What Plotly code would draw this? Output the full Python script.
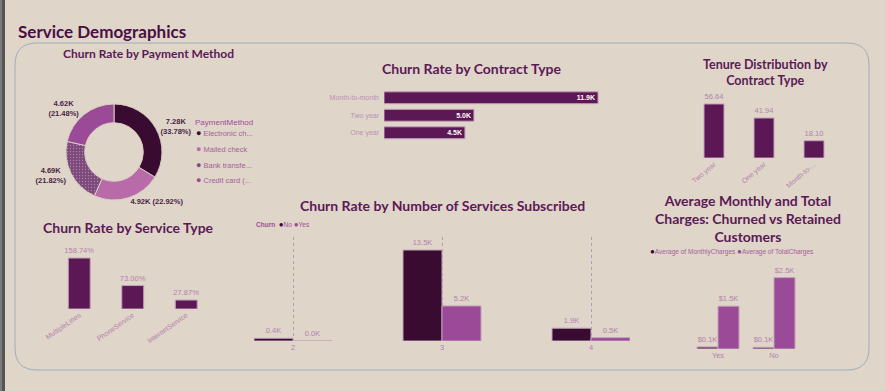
import plotly.graph_objects as go

W, H = 885, 391


def px(x):
    return x / W


def py(y):
    return 1 - y / H


# ---------------- data ----------------
pay_methods = ["Electronic check", "Mailed check", "Bank transfer (automatic)", "Credit card (automatic)"]
pay_legend_names = ["Electronic ch...", "Mailed check", "Bank transfe...", "Credit card (..."]
pay_counts_k = [7.28, 4.92, 4.69, 4.62]
pay_pct = [33.78, 22.92, 21.82, 21.48]

contract_types = ["Month-to-month", "Two year", "One year"]
contract_churn_k = [11.9, 5.0, 4.5]

tenure_contracts = ["Two year", "One year", "Month-to-month"]
tenure_ticktext = ["Two year", "One year", "Month-to-..."]
tenure_values = [56.64, 41.94, 18.10]

service_types = ["MultipleLines", "PhoneService", "InternetService"]
service_rates = [158.74, 73.00, 27.87]

num_services = [2, 3, 4]
churn_series = ["No", "Yes"]
churn_no_k = [0.4, 13.5, 1.9]
churn_yes_k = [0.0, 5.2, 0.5]

charge_groups = ["Yes", "No"]
charge_series = ["Average of MonthlyCharges", "Average of TotalCharges"]
avg_monthly_k = [0.074, 0.061]
avg_total_k = [1.53, 2.55]

# ---------------- style ----------------
BG = "#DFD5C8"
DARK = "#3A0B30"
BAR = "#5C1854"
MID = "#9B4A97"
PINK = "#B86BA8"
DOTTED = "#7E4A7C"
TITLE = "#5B1A57"
LABEL = "#B482AE"
LEG = "#A8609F"
EDGE = "#C3A2BC"
FONT = "Liberation Sans"
TFONT = "Lato"
pay_colors = [DARK, PINK, DOTTED, MID]

fig = go.Figure()

# ---- Donut: churn by payment method ----
sep = ["<br>", " ", "<br>", "<br>"]
pie_text = [f"{c:.2f}K{s}({p:.2f}%)" for c, p, s in zip(pay_counts_k, pay_pct, sep)]
fig.add_trace(go.Pie(
    labels=pay_methods, values=pay_pct, text=pie_text, textinfo="text",
    textposition="outside", hole=0.61, sort=False, direction="clockwise",
    rotation=0, showlegend=False, automargin=False,
    marker=dict(colors=pay_colors, line=dict(color="#D8CCC4", width=1),
                pattern=dict(shape=["", "", ".", ""], fgcolor="#A884A6",
                             bgcolor=pay_colors, size=3, solidity=0.15)),
    textfont=dict(size=7.5, color="#4A2446", family=FONT, weight="bold"),
    domain=dict(x=[px(66), px(162)], y=[py(200), py(104)]),
    hoverinfo="label+percent",
))

# ---- Horizontal bars: churn by contract type ----
fig.add_trace(go.Bar(
    y=contract_types, x=contract_churn_k, orientation="h", width=0.68,
    marker=dict(color=BAR, line=dict(color=EDGE, width=1)),
    texttemplate="%{x:.1f}K", textposition="inside", insidetextanchor="end",
    textfont=dict(color="white", size=7, family=FONT, weight="bold"),
    constraintext="none", showlegend=False, xaxis="x", yaxis="y",
))

# ---- Tenure by contract type ----
fig.add_trace(go.Bar(
    x=tenure_contracts, y=tenure_values, width=0.4,
    marker=dict(color=BAR, line=dict(color=EDGE, width=1)),
    texttemplate="%{y:.2f}", textposition="outside", cliponaxis=False,
    textfont=dict(color=LABEL, size=7.5, family=FONT),
    constraintext="none", showlegend=False, xaxis="x2", yaxis="y2",
))

# ---- Service type ----
fig.add_trace(go.Bar(
    x=service_types, y=service_rates, width=0.41,
    marker=dict(color=BAR, line=dict(color=EDGE, width=1)),
    texttemplate="%{y:.2f}%", textposition="outside", cliponaxis=False,
    textfont=dict(color=LABEL, size=7.5, family=FONT),
    constraintext="none", showlegend=False, xaxis="x3", yaxis="y3",
))

# ---- Number of services subscribed ----
bw = 39 / 149
for vals, col, off, name in zip([churn_no_k, churn_yes_k], [DARK, MID], [-bw, 0], churn_series):
    fig.add_trace(go.Bar(
        x=num_services, y=vals, width=bw, offset=off, name=name,
        marker=dict(color=col, line=dict(color=EDGE, width=1)),
        texttemplate="%{y:.1f}K", textposition="outside", cliponaxis=False,
        textfont=dict(color=LABEL, size=7.5, family=FONT),
        constraintext="none", showlegend=False, xaxis="x4", yaxis="y4",
    ))

# ---- Average charges ----
cw = 21 / 56
for vals, col, off, name in zip([avg_monthly_k, avg_total_k], ["#6A3560", MID], [-cw, 0], charge_series):
    fig.add_trace(go.Bar(
        x=charge_groups, y=vals, width=cw, offset=off, name=name,
        marker=dict(color=col, line=dict(color=EDGE, width=1)),
        texttemplate="$%{y:.1f}K", textposition="outside", cliponaxis=False,
        textfont=dict(color=LABEL, size=7.5, family=FONT),
        constraintext="none", showlegend=False, xaxis="x5", yaxis="y5",
    ))


def axis(domain, **kw):
    d = dict(domain=domain, showgrid=False, zeroline=False, showline=False,
             ticks="", fixedrange=True, automargin=False,
             tickfont=dict(size=7, color=LABEL, family=FONT))
    d.update(kw)
    return d


lay = dict(
    width=W, height=H, autosize=False,
    margin=dict(l=0, r=0, t=0, b=0, pad=0, autoexpand=False),
    paper_bgcolor=BG, plot_bgcolor="rgba(0,0,0,0)",
    barmode="overlay", showlegend=False,
    font=dict(family=FONT, color=LABEL),
    # contract type
    xaxis=axis([px(384), px(620)], range=[0, 13.12], showticklabels=False, anchor="y"),
    yaxis=axis([py(141.5), py(89)], type="category", autorange="reversed", anchor="x",
               ticklabelstandoff=4,
               tickfont=dict(size=7, color="#BC92B6", family=FONT)),
    # tenure
    xaxis2=axis([px(689), px(839)], type="category", tickangle=-40, anchor="y2",
                tickvals=tenure_contracts, ticktext=tenure_ticktext),
    yaxis2=axis([py(158), py(100)], range=[0, 60.8], showticklabels=False, anchor="x2"),
    # service type
    xaxis3=axis([px(52.5), px(213)], type="category", tickangle=-35, anchor="y3"),
    yaxis3=axis([py(309), py(250)], range=[0, 183.8], showticklabels=False, anchor="x3"),
    # services subscribed
    xaxis4=axis([px(254), px(630)], range=[2 - bw, 4 + bw], tickvals=num_services,
                showgrid=True, griddash="dot", gridcolor="#B79AB3", gridwidth=1, anchor="y4",
                tickfont=dict(size=7.5, color=LABEL, family=FONT)),
    yaxis4=axis([py(341), py(237)], range=[0, 15.43], showticklabels=False, anchor="x4"),
    # charges
    xaxis5=axis([px(690), px(802)], type="category", anchor="y5",
                tickfont=dict(size=7.5, color=LABEL, family=FONT)),
    yaxis5=axis([py(349), py(265)], range=[0, 3.0], showticklabels=False, anchor="x5"),
)

# background decorations: left strip and rounded panel
L, T, R, B, r = 15, 43, 869, 370, 22
path = (f"M {px(L + r)} {py(T)} L {px(R - r)} {py(T)} Q {px(R)} {py(T)} {px(R)} {py(T + r)} "
        f"L {px(R)} {py(B - r)} Q {px(R)} {py(B)} {px(R - r)} {py(B)} "
        f"L {px(L + r)} {py(B)} Q {px(L)} {py(B)} {px(L)} {py(B - r)} "
        f"L {px(L)} {py(T + r)} Q {px(L)} {py(T)} {px(L + r)} {py(T)} Z")
shapes = [
    dict(type="rect", xref="paper", yref="paper", x0=0, x1=px(5), y0=0, y1=1,
         fillcolor="#555555", line=dict(width=0), layer="below"),
    dict(type="rect", xref="paper", yref="paper", x0=0, x1=px(2), y0=0, y1=1,
         fillcolor="#7A7A7A", line=dict(width=0), layer="below"),
    dict(type="path", xref="paper", yref="paper", path=path,
         line=dict(color="#9FADBC", width=1), fillcolor="rgba(0,0,0,0)", layer="below"),
]


def title(text, x, y, size, family=TFONT, color=TITLE):
    return dict(text=text, x=px(x), y=py(y), xref="paper", yref="paper",
                xanchor="center", yanchor="middle", showarrow=False,
                font=dict(size=size, color=color, family=family, weight="bold"))


def note(text, x, y, size, color=LEG, xanchor="left"):
    return dict(text=text, x=px(x), y=py(y), xref="paper", yref="paper",
                xanchor=xanchor, yanchor="middle", showarrow=False,
                font=dict(size=size, color=color, family=FONT))


def dot(col, size=9):
    return f"<span style='color:{col};font-size:{size}px'>●</span>"


annotations = [
    dict(text="Service Demographics", x=px(16), y=py(31), xref="paper", yref="paper",
         xanchor="left", yanchor="middle", showarrow=False,
         font=dict(size=17, color="#4A0E44", family=TFONT, weight="bold")),
    title("Churn Rate by Payment Method", 148, 53, 12),
    title("Churn Rate by Contract Type", 472, 68, 14),
    title("Tenure Distribution by<br>Contract Type", 765, 72, 12.5),
    title("Churn Rate by Service Type", 128, 227, 14),
    title("Churn Rate by Number of Services Subscribed", 442, 205, 14),
    title("Average Monthly and Total<br>Charges: Churned vs Retained<br>Customers", 748, 218, 14),
    # payment legend
    note("PaymentMethod", 193, 122, 8, color="#A24C9A"),
]
for i, (name, col) in enumerate(zip(pay_legend_names, pay_colors)):
    annotations.append(note(f"{dot(col, 9)} {name}", 194, 133.5 + i * 15.5, 7.5))

# churn legend
annotations.append(note("<b>Churn</b>  " + " ".join(f"{dot(c, 8)}{n}" for n, c in zip(churn_series, [DARK, MID])),
                        254, 224.5, 6.5, color="#A24C9A"))
# charges legend
annotations.append(note(" ".join(f"{dot(c, 8)}{n}" for n, c in zip(charge_series, [DARK, MID])),
                        648, 251.5, 6.5))

lay["shapes"] = shapes
lay["annotations"] = annotations
fig.update_layout(**lay)

fig.write_html("out.html", config=dict(displayModeBar=False),
               post_script="document.body.style.margin='0';document.body.style.overflow='hidden';")
